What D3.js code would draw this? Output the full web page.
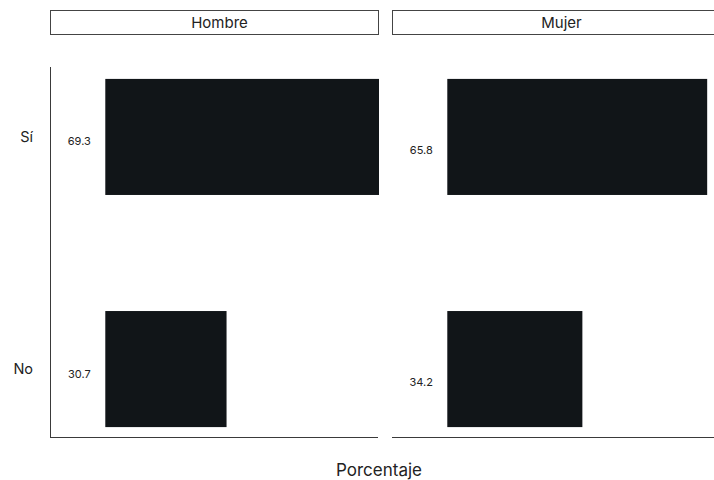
<!DOCTYPE html>
<html>
<head>
<meta charset="utf-8">
<script src="https://cdn.jsdelivr.net/npm/d3@7"></script>
<style>
  body { margin: 0; background: #fff; }
  svg { display: block; font-family: Inter, "Noto Sans", sans-serif; }
</style>
</head>
<body>
<svg id="chart" width="714" height="480"></svg>
<script>
const panels = ["Hombre", "Mujer"];
const categories = ["Sí", "No"];
const hombreValues = [69.3, 30.7];
const mujerValues = [65.8, 34.2];
const xTitle = "Porcentaje";

(function () {
const seriesByPanel = { "Hombre": hombreValues, "Mujer": mujerValues };

const svg = d3.select("#chart");
const panelW = 329;
const panelX = [50, 392];
const plotTop = 67, plotBottom = 437;
const labelDy = { "Hombre": 4.5, "Mujer": 13 };

const allVals = hombreValues.concat(mujerValues);
const x = d3.scaleLinear().domain([-14, d3.max(allVals)]).range([0, panelW]);
const y = d3.scaleBand().domain(categories).range([plotTop + 1, plotBottom + 1])
  .paddingInner(0.5).paddingOuter(0.047);

const barColor = "#111518";
const axisColor = "#3a3a3a";

// y axis labels
svg.append("g").selectAll("text").data(categories).join("text")
  .attr("x", 33).attr("y", d => y(d) + y.bandwidth() / 2 + 5)
  .attr("text-anchor", "end").attr("font-size", 14.5).attr("fill", "#222")
  .text(d => d);

// left axis line
svg.append("line").attr("x1", 50.5).attr("x2", 50.5).attr("y1", plotTop).attr("y2", plotBottom)
  .attr("stroke", axisColor).attr("stroke-width", 1);

panels.forEach((p, i) => {
  const g = svg.append("g").attr("transform", `translate(${panelX[i]},0)`);
  const vals = seriesByPanel[p];
  const data = categories.map((c, j) => ({ c, v: vals[j] }));

  // strip
  g.append("rect").attr("x", 0.5).attr("y", 10.5).attr("width", panelW - 1).attr("height", 24)
    .attr("fill", "#fff").attr("stroke", "#444").attr("stroke-width", 1);
  g.append("text").attr("x", panelW / 2 + 5).attr("y", 27.5).attr("text-anchor", "middle")
    .attr("font-size", 15).attr("fill", "#222").text(p);

  // bars
  g.selectAll("rect.bar").data(data).join("rect").attr("class", "bar")
    .attr("x", x(0)).attr("width", d => x(d.v) - x(0))
    .attr("y", d => y(d.c)).attr("height", y.bandwidth())
    .attr("fill", barColor);

  // value labels
  g.selectAll("text.val").data(data).join("text").attr("class", "val")
    .attr("x", x(0) - 26).attr("y", d => y(d.c) + y.bandwidth() / 2 + labelDy[p] + 4)
    .attr("text-anchor", "middle").attr("font-size", 11).attr("fill", "#222")
    .text(d => d.v.toFixed(1));

  // bottom axis line
  g.append("line").attr("x1", 0).attr("x2", panelW - 1).attr("y1", plotBottom + 0.5).attr("y2", plotBottom + 0.5)
    .attr("stroke", axisColor).attr("stroke-width", 1);
});

// x title
svg.append("text").attr("x", 379).attr("y", 476).attr("text-anchor", "middle")
  .attr("font-size", 17).attr("fill", "#222").text(xTitle);
})();
</script>
</body>
</html>
